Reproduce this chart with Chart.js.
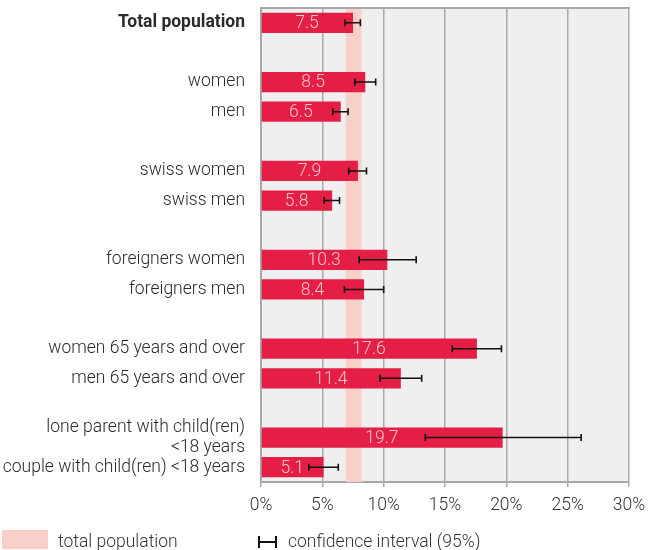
<!DOCTYPE html>
<html>
<head>
<meta charset="utf-8">
<script src="https://cdn.jsdelivr.net/npm/chart.js@4"></script>
<style>
  html, body { margin: 0; padding: 0; background: #fff; }
  #wrap { position: relative; width: 648px; height: 550px; }
  #c { position: absolute; left: 0; top: 0; }
  .leg { position: absolute; font-family: Roboto, sans-serif; font-weight: 300; font-size: 17.5px; color: #333; line-height: 20px; white-space: nowrap; }
  #box { position: absolute; left: 2px; top: 530px; width: 46px; height: 19px; background: #f9cfca; }
  #ci { position: absolute; left: 258px; top: 536px; width: 19px; height: 12px; }
</style>
</head>
<body>
<div id="wrap">
  <canvas id="c" width="648" height="550"></canvas>
  <div id="box"></div>
  <div class="leg" style="left:58px; top:531px;">total population</div>
  <svg id="ci" width="19" height="12" viewBox="0 0 19 12">
    <line x1="1" y1="0" x2="1" y2="12" stroke="#111" stroke-width="2"/>
    <line x1="18" y1="0" x2="18" y2="12" stroke="#111" stroke-width="2"/>
    <line x1="1" y1="6" x2="18" y2="6" stroke="#111" stroke-width="2"/>
  </svg>
  <div class="leg" style="left:288px; top:531px;">confidence interval (95%)</div>
</div>
<script>
const categories = [
  "Total population", "",
  "women", "men", "",
  "swiss women", "swiss men", "",
  "foreigners women", "foreigners men", "",
  "women 65 years and over", "men 65 years and over", "",
  ["lone parent with child(ren)", "<18 years"], "couple with child(ren) <18 years"
];
const rates  = [7.5, null, 8.5, 6.5, null, 7.9, 5.8, null, 10.3, 8.4, null, 17.6, 11.4, null, 19.7, 5.1];
const ciLow  = [6.85, null, 7.65, 5.85, null, 7.15, 5.15, null, 8.0, 6.8, null, 15.6, 9.7, null, 13.4, 3.9];
const ciHigh = [8.1, null, 9.35, 7.1, null, 8.6, 6.4, null, 12.65, 10.0, null, 19.6, 13.1, null, 26.1, 6.3];
const totalBand = [6.9, 8.2];
const xTicks = [0, 5, 10, 15, 20, 25, 30];

const FONT = "Roboto, sans-serif";
const FS = 17.5;

const plotDeco = {
  id: 'plotDeco',
  beforeDraw(chart) {
    const {ctx, chartArea: a} = chart;
    ctx.save();
    ctx.fillStyle = '#efefef';
    ctx.fillRect(a.left, a.top, a.right - a.left, a.bottom - a.top);
    ctx.restore();
  },
  beforeDatasetsDraw(chart) {
    const {ctx, chartArea: a, scales: {x}} = chart;
    const x0 = x.getPixelForValue(totalBand[0]);
    const x1 = x.getPixelForValue(totalBand[1]);
    ctx.save();
    ctx.fillStyle = '#f9cfca';
    ctx.fillRect(x0, a.top, x1 - x0, a.bottom - a.top);
    ctx.restore();
  },
  afterDatasetsDraw(chart) {
    const {ctx, chartArea: a, scales: {x}} = chart;
    const meta = chart.getDatasetMeta(0);
    ctx.save();
    ctx.font = "300 " + FS + "px " + FONT;
    ctx.fillStyle = '#f8c6cd';
    ctx.textAlign = 'center';
    ctx.textBaseline = 'middle';
    meta.data.forEach((bar, i) => {
      if (rates[i] == null) return;
      const x0 = x.getPixelForValue(0);
      ctx.fillText(rates[i].toFixed(1), (x0 + bar.x) / 2, bar.y + 1);
    });
    ctx.strokeStyle = '#111';
    ctx.lineWidth = 1.6;
    meta.data.forEach((bar, i) => {
      if (ciLow[i] == null) return;
      const l = x.getPixelForValue(ciLow[i]);
      const h = x.getPixelForValue(ciHigh[i]);
      const y = bar.y;
      ctx.beginPath();
      ctx.moveTo(l, y); ctx.lineTo(h, y);
      ctx.moveTo(l, y - 3.5); ctx.lineTo(l, y + 3.5);
      ctx.moveTo(h, y - 3.5); ctx.lineTo(h, y + 3.5);
      ctx.stroke();
    });
    ctx.strokeStyle = '#a8a8a8';
    ctx.lineWidth = 2;
    ctx.beginPath();
    ctx.moveTo(a.left, a.top); ctx.lineTo(a.right + 1, a.top);
    ctx.stroke();
    ctx.restore();
  }
};

new Chart(document.getElementById('c'), {
  type: 'bar',
  data: {
    labels: categories,
    datasets: [{
      data: rates,
      backgroundColor: '#e41e44',
      borderWidth: 0,
      barPercentage: 0.68,
      categoryPercentage: 1.0
    }]
  },
  options: {
    indexAxis: 'y',
    responsive: false,
    animation: false,
    events: [],
    layout: { padding: { left: 0, right: 19, top: 8, bottom: 38 } },
    plugins: { legend: { display: false }, tooltip: { enabled: false } },
    scales: {
      x: {
        min: 0, max: 30,
        afterBuildTicks(s) { s.ticks = xTicks.map(v => ({ value: v })); },
        afterFit(s) { s.height = 30; s.paddingLeft = 0; s.paddingRight = 0; },
        grid: { color: '#aaaaaa', lineWidth: 1.5, tickLength: 5, drawTicks: true },
        border: { color: '#a8a8a8', width: 2 },
        ticks: {
          callback: v => v + '%',
          color: '#333',
          padding: 8,
          font: { family: FONT, size: FS, weight: '300' }
        }
      },
      y: {
        afterFit(s) { s.width = 261; s.paddingTop = 0; s.paddingBottom = 0; },
        grid: { display: false, drawTicks: false },
        border: { color: '#a8a8a8', width: 2 },
        ticks: {
          autoSkip: false,
          padding: 16,
          color: '#2a2a2a',
          font: ctx => ctx.index === 0
            ? { family: FONT, size: FS, weight: 'bold', lineHeight: 1.1 }
            : { family: FONT, size: FS, weight: '300', lineHeight: 1.1 }
        }
      }
    }
  },
  plugins: [plotDeco]
});
</script>
</body>
</html>
